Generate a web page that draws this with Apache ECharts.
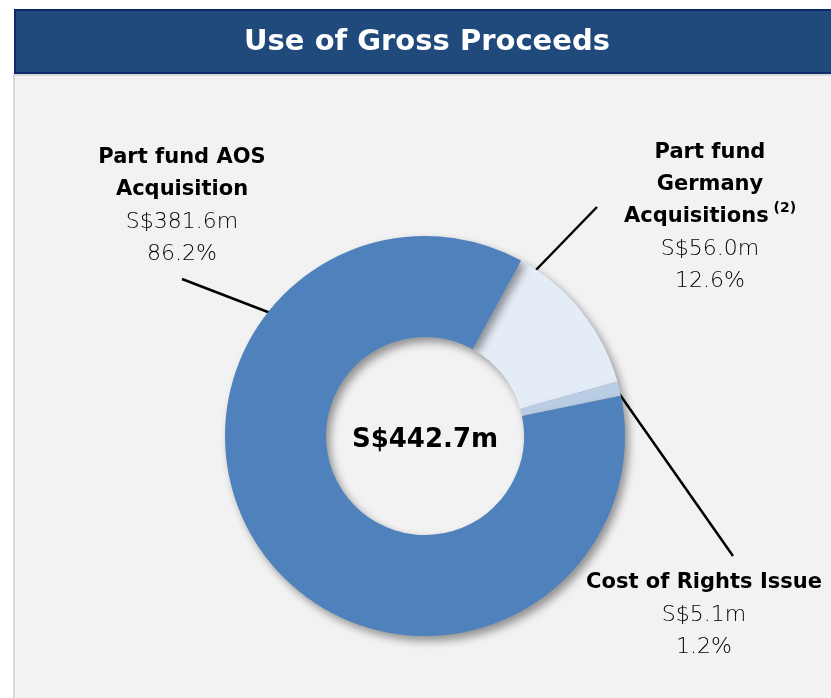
<!DOCTYPE html>
<html>
<head>
<meta charset="utf-8">
<script src="https://cdn.jsdelivr.net/npm/echarts@6/dist/echarts.min.js"></script>
<style>
html,body{margin:0;padding:0;background:#ffffff;}
#chart{width:831px;height:698px;}
</style>
</head>
<body>
<div id="chart"></div>
<script>
// ---- data ----
var categories = ['Part fund\nGermany\nAcquisitions', 'Cost of Rights Issue', 'Part fund AOS\nAcquisition'];
var valuesSGDm = [56.0, 5.1, 381.6];
var percentLabels = [12.6, 1.2, 86.2];
var footnotes = ['(2)', '', ''];
var titleText = 'Use of Gross Proceeds';

// ---- styles / layout ----
var sliceColors = ['#E4ECF7', '#B9CDE5', '#4F81BD'];
var FONT = '"DejaVu Sans", sans-serif';
var CX = 425, CY = 436;
var labelPos = [
  {x: 710, y: 137, line: [[534, 272], [597, 207]]},
  {x: 704, y: 567, line: [[618, 392], [733, 556]]},
  {x: 182, y: 142, line: [[273, 314], [182, 279]]}
];

var total = valuesSGDm.reduce(function (a, b) { return a + b; }, 0);

var data = categories.map(function (c, i) {
  return {name: c, value: valuesSGDm[i], itemStyle: {color: sliceColors[i]}};
});

var chart = echarts.init(document.getElementById('chart'), null, {renderer: 'canvas'});
chart.setOption({
  backgroundColor: '#ffffff',
  animation: false,
  graphic: [
    {type: 'rect', z: 0, shape: {x: 13, y: 74, width: 820, height: 630}, style: {fill: '#d9d9d9'}},
    {type: 'rect', z: 1, shape: {x: 15, y: 76, width: 820, height: 630}, style: {fill: '#F2F2F2'}},
    {type: 'rect', z: 2, shape: {x: 15, y: 10, width: 830, height: 63},
      style: {fill: '#214A7C', stroke: '#0D2A69', lineWidth: 2}},
    {type: 'text', z: 3, x: 427, y: 42,
      style: {text: titleText, fill: '#ffffff', font: 'bold 29px ' + FONT, textAlign: 'center', textVerticalAlign: 'middle'}},
    {type: 'text', z: 10, x: CX, y: 440,
      style: {text: 'S$' + total.toFixed(1) + 'm', fill: '#000000', font: 'bold 26px ' + FONT, textAlign: 'center', textVerticalAlign: 'middle'}}
  ],
  series: [{
    type: 'pie',
    center: [CX, CY],
    radius: [99, 200],
    startAngle: 61.3,
    clockwise: true,
    avoidLabelOverlap: false,
    itemStyle: {shadowBlur: 9, shadowOffsetX: 4, shadowOffsetY: 5, shadowColor: 'rgba(0,0,0,0.4)'},
    emphasis: {disabled: true},
    data: data,
    label: {
      show: true,
      position: 'outside',
      formatter: function (p) {
        var i = p.dataIndex;
        var lines = categories[i].split('\n').map(function (s, k, arr) {
          var t = '{b|' + s + '}';
          if (k === arr.length - 1 && footnotes[i]) t += '{sup| ' + footnotes[i] + '}';
          return t;
        });
        lines.push('{v|S$' + valuesSGDm[i].toFixed(1) + 'm}');
        lines.push('{v|' + percentLabels[i].toFixed(1) + '%}');
        return lines.join('\n');
      },
      rich: {
        b: {fontFamily: FONT, fontWeight: 'bold', fontSize: 21, color: '#000', lineHeight: 32},
        sup: {fontFamily: FONT, fontWeight: 'bold', fontSize: 14, color: '#000', lineHeight: 32, verticalAlign: 'top', padding: [0, 0, 10, 0]},
        v: {fontFamily: FONT, fontWeight: 200, fontSize: 22, color: '#000', lineHeight: 32}
      }
    },
    labelLine: {show: true, lineStyle: {color: '#000', width: 2.5}},
    labelLayout: function (params) {
      var lp = labelPos[params.dataIndex];
      return {x: lp.x, y: lp.y, align: 'center', verticalAlign: 'top', labelLinePoints: lp.line};
    }
  }]
});
</script>
</body>
</html>
